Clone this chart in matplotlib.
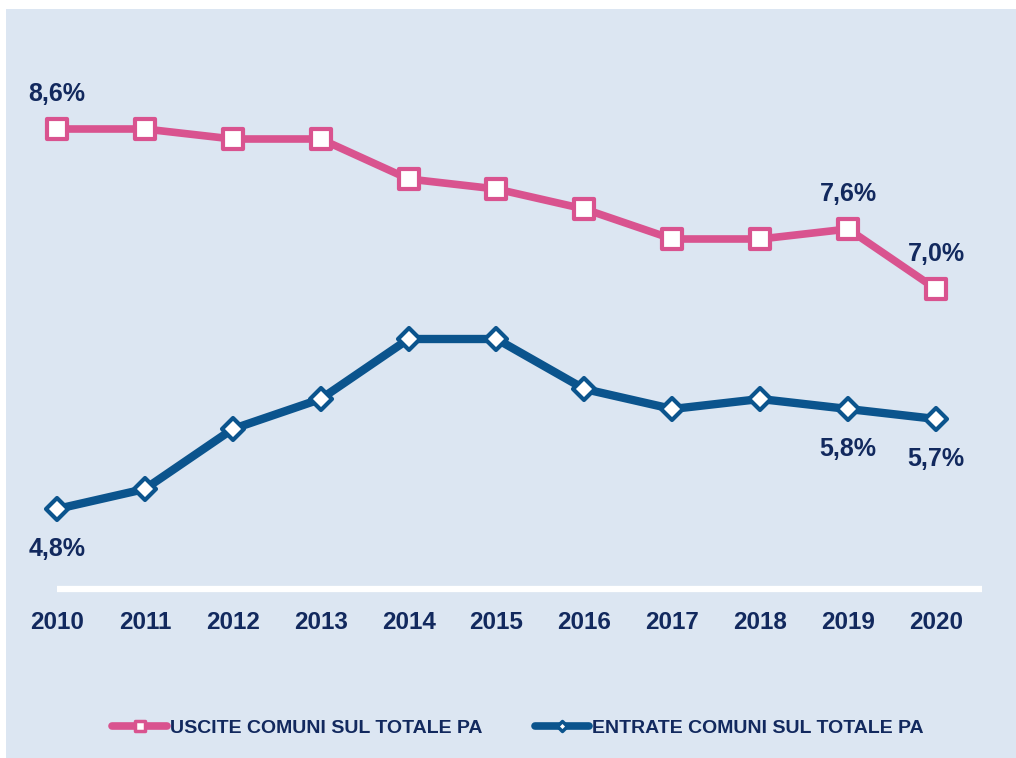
import matplotlib.pyplot as plt
from matplotlib.lines import Line2D
from matplotlib.markers import MarkerStyle
from matplotlib.patches import Rectangle

years = ['2010', '2011', '2012', '2013', '2014', '2015', '2016', '2017', '2018', '2019', '2020']
uscite = [8.6, 8.6, 8.5, 8.5, 8.1, 8.0, 7.8, 7.5, 7.5, 7.6, 7.0]
entrate = [4.8, 5.0, 5.6, 5.9, 6.5, 6.5, 6.0, 5.8, 5.9, 5.8, 5.7]
labels_uscite = [0, 9, 10]   # indices that get a data label
labels_entrate = [0, 9, 10]
series_names = ['USCITE COMUNI SUL TOTALE PA', 'ENTRATE COMUNI SUL TOTALE PA']

PINK = '#D9538F'
NAVY = '#0B548D'
TEXT = '#12295E'
BG = '#DCE6F2'
FONT = 'Liberation Sans'

fig = plt.figure(figsize=(10.16, 7.58), dpi=100)
fig.patch.set_facecolor('white')
fig.patches.append(Rectangle((6 / 1016, 0), 1, 1 - 9 / 758, transform=fig.transFigure,
                             facecolor=BG, edgecolor='none', zorder=-10))

ax = fig.add_axes([13 / 1016, 1 - 589 / 758, 967 / 1016, 500 / 758])
ax.set_facecolor('none')
x = list(range(len(years)))

sq = MarkerStyle('s', joinstyle='round')
dm = MarkerStyle('D', joinstyle='round')

ax.plot(x, uscite, color=PINK, lw=5.5, marker=sq, ms=14, mfc='white', mec=PINK, mew=3,
        solid_joinstyle='round', zorder=3)
ax.plot(x, entrate, color=NAVY, lw=6, marker=dm, ms=11, mfc='white', mec=NAVY, mew=3,
        solid_joinstyle='round', zorder=3)

# white category axis line
ax.plot([0, 10.52], [4.0, 4.0], color='white', lw=4.5, clip_on=False, zorder=2,
        solid_capstyle='butt')

for i in labels_uscite:
    ax.annotate(f'{uscite[i]:.1f}%'.replace('.', ','), (x[i], uscite[i]), xytext=(0, 25),
                textcoords='offset points', ha='center', va='center',
                fontsize=18, fontweight='bold', color=TEXT, family=FONT)
for i in labels_entrate:
    ax.annotate(f'{entrate[i]:.1f}%'.replace('.', ','), (x[i], entrate[i]), xytext=(0, -29),
                textcoords='offset points', ha='center', va='center',
                fontsize=18, fontweight='bold', color=TEXT, family=FONT)

ax.set_xlim(-0.5, 10.5)
ax.set_ylim(4.0, 9.0)
ax.set_xticks(x)
ax.set_xticklabels(years, fontsize=17.5, fontweight='bold', color=TEXT, family=FONT)
ax.tick_params(axis='x', length=0, pad=16)
ax.set_yticks([])
for s in ax.spines.values():
    s.set_visible(False)

handles = [
    Line2D([], [], color=PINK, lw=5.5, marker=MarkerStyle('s', joinstyle='round'), ms=7,
           mfc='white', mec=PINK, mew=2.5, solid_capstyle='round'),
    Line2D([], [], color=NAVY, lw=5.5, marker=MarkerStyle('D', joinstyle='round'), ms=5,
           mfc='white', mec=NAVY, mew=2.5, solid_capstyle='round'),
]
leg = fig.legend(handles, series_names, loc='center', bbox_to_anchor=(518 / 1016, 1 - 728 / 758),
                 ncol=2, frameon=False, handlelength=2.8, handletextpad=0.15, columnspacing=2.7,
                 prop={'family': FONT, 'weight': 'bold', 'size': 14})
for t in leg.get_texts():
    t.set_color(TEXT)

fig.savefig('out.png', dpi=100, facecolor=fig.get_facecolor())
